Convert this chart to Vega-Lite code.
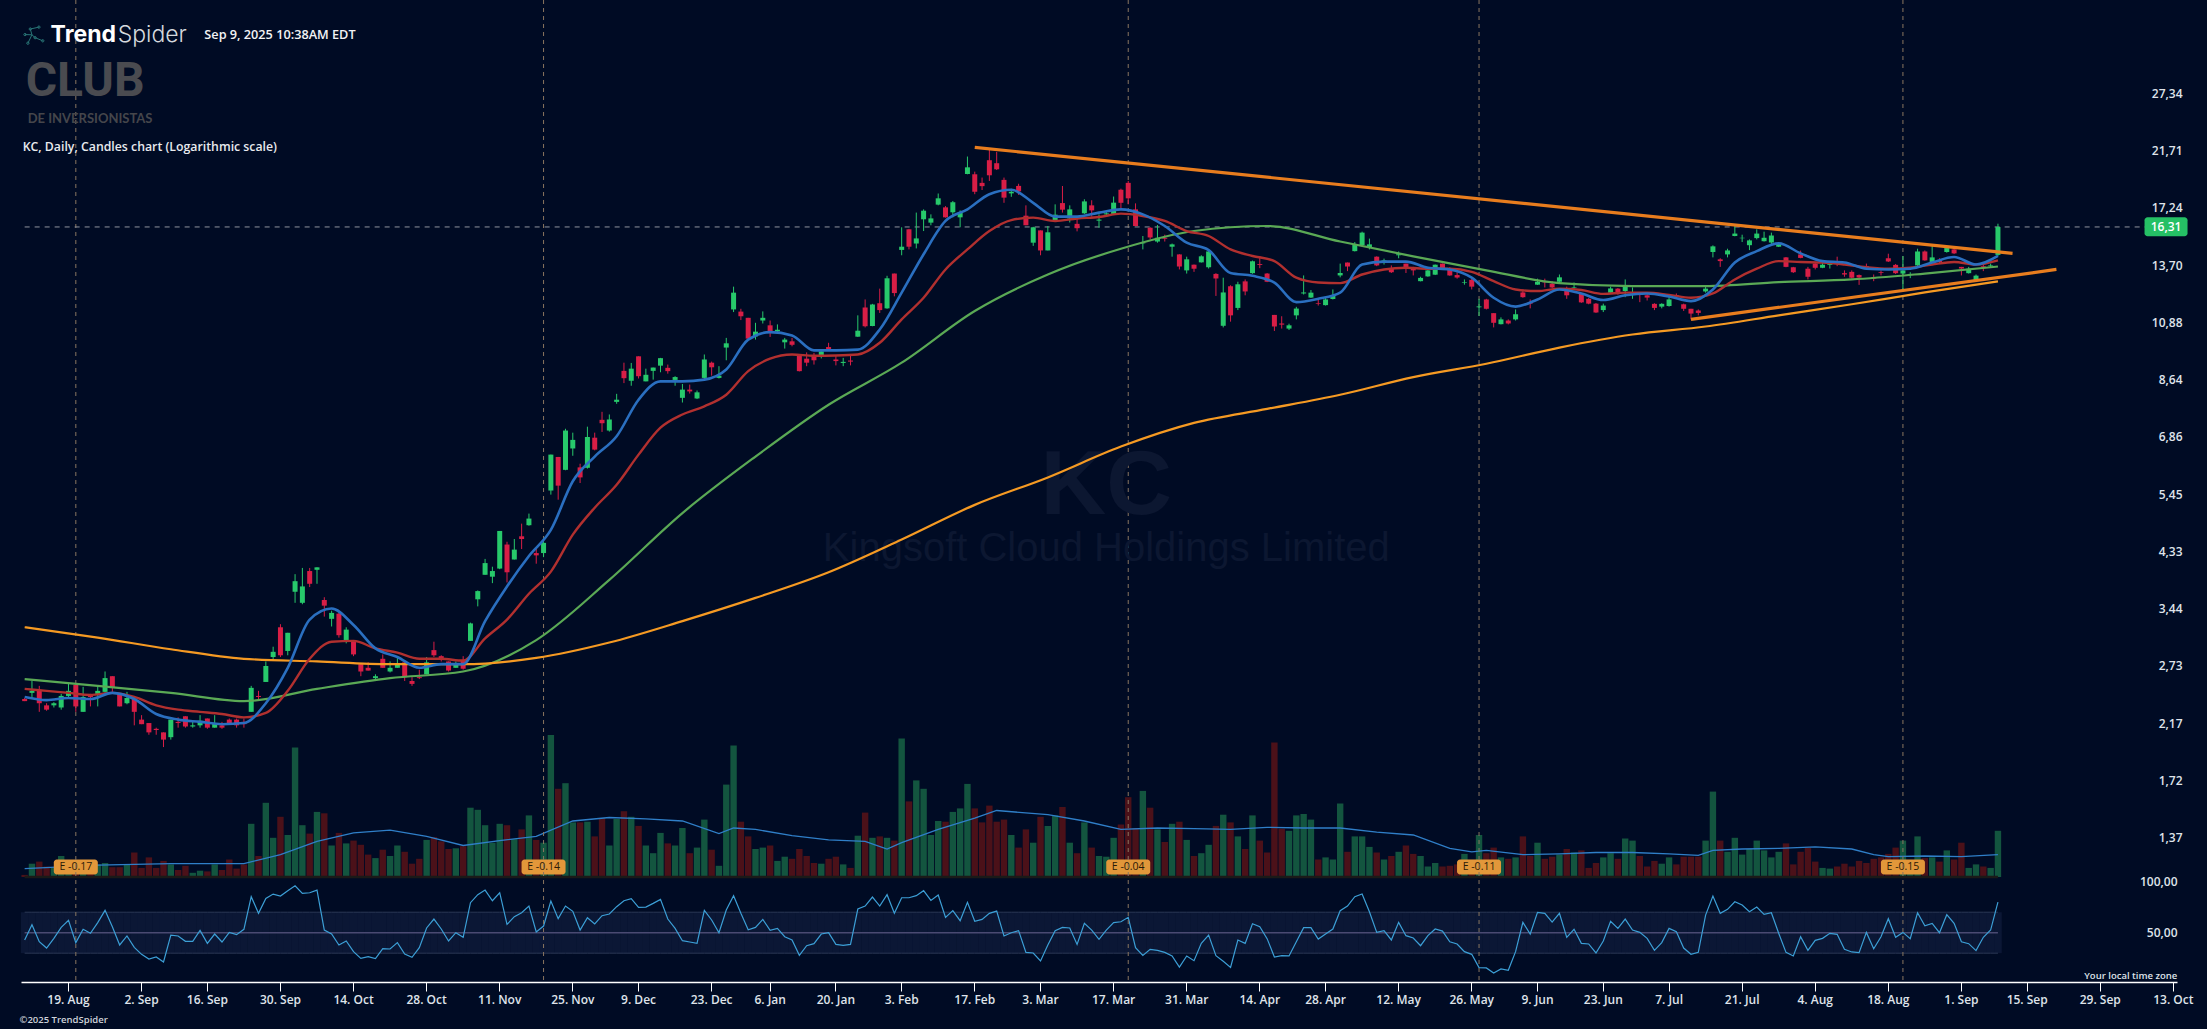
{"$schema":"https://vega.github.io/schema/vega-lite/v6.json","width":2156,"height":982,"autosize":{"type":"none"},"padding":{"left":21,"top":0,"right":30,"bottom":47},"background":"#000b24","config":{"view":{"stroke":null},"font":"Open Sans"},
"datasets":{"bars":[
{"d":"2024-08-09","o":2.39,"h":2.40,"l":2.37,"c":2.37,"v":0.3,"r":42.9},
{"d":"2024-08-12","o":2.45,"h":2.57,"l":2.40,"c":2.47,"v":1.9,"r":57.8},
{"d":"2024-08-13","o":2.48,"h":2.52,"l":2.27,"c":2.35,"v":2.2,"r":41.2},
{"d":"2024-08-14","o":2.33,"h":2.35,"l":2.28,"c":2.29,"v":1.5,"r":35.0},
{"d":"2024-08-15","o":2.33,"h":2.36,"l":2.31,"c":2.35,"v":1.3,"r":44.5},
{"d":"2024-08-16","o":2.31,"h":2.44,"l":2.29,"c":2.42,"v":3.0,"r":55.2},
{"d":"2024-08-19","o":2.42,"h":2.54,"l":2.41,"c":2.47,"v":2.0,"r":62.0},
{"d":"2024-08-20","o":2.53,"h":2.55,"l":2.27,"c":2.32,"v":1.5,"r":40.3},
{"d":"2024-08-21","o":2.27,"h":2.51,"l":2.27,"c":2.41,"v":1.7,"r":53.3},
{"d":"2024-08-22","o":2.43,"h":2.44,"l":2.32,"c":2.41,"v":1.3,"r":49.4},
{"d":"2024-08-23","o":2.44,"h":2.51,"l":2.32,"c":2.47,"v":1.8,"r":59.8},
{"d":"2024-08-26","o":2.46,"h":2.67,"l":2.45,"c":2.60,"v":2.0,"r":71.8},
{"d":"2024-08-27","o":2.62,"h":2.62,"l":2.46,"c":2.50,"v":1.4,"r":55.9},
{"d":"2024-08-28","o":2.44,"h":2.45,"l":2.32,"c":2.32,"v":1.4,"r":38.0},
{"d":"2024-08-29","o":2.35,"h":2.46,"l":2.34,"c":2.40,"v":1.8,"r":46.8},
{"d":"2024-08-30","o":2.39,"h":2.41,"l":2.15,"c":2.27,"v":3.5,"r":35.7},
{"d":"2024-09-03","o":2.20,"h":2.24,"l":2.16,"c":2.16,"v":1.3,"r":28.9},
{"d":"2024-09-04","o":2.17,"h":2.17,"l":2.07,"c":2.09,"v":2.8,"r":24.3},
{"d":"2024-09-05","o":2.12,"h":2.13,"l":2.07,"c":2.11,"v":1.3,"r":26.3},
{"d":"2024-09-06","o":2.09,"h":2.09,"l":1.97,"c":2.03,"v":2.3,"r":21.4},
{"d":"2024-09-09","o":2.05,"h":2.20,"l":2.03,"c":2.20,"v":1.8,"r":47.7},
{"d":"2024-09-10","o":2.18,"h":2.22,"l":2.13,"c":2.17,"v":1.0,"r":46.8},
{"d":"2024-09-11","o":2.23,"h":2.23,"l":2.13,"c":2.14,"v":1.6,"r":41.6},
{"d":"2024-09-12","o":2.14,"h":2.19,"l":2.13,"c":2.15,"v":0.6,"r":41.6},
{"d":"2024-09-13","o":2.15,"h":2.24,"l":2.13,"c":2.19,"v":0.9,"r":52.3},
{"d":"2024-09-16","o":2.21,"h":2.21,"l":2.12,"c":2.13,"v":0.8,"r":39.6},
{"d":"2024-09-17","o":2.13,"h":2.24,"l":2.13,"c":2.17,"v":1.8,"r":48.7},
{"d":"2024-09-18","o":2.15,"h":2.18,"l":2.12,"c":2.13,"v":1.0,"r":40.9},
{"d":"2024-09-19","o":2.20,"h":2.21,"l":2.16,"c":2.16,"v":2.5,"r":50.3},
{"d":"2024-09-20","o":2.20,"h":2.21,"l":2.13,"c":2.15,"v":1.2,"r":48.1},
{"d":"2024-09-23","o":2.18,"h":2.21,"l":2.13,"c":2.16,"v":1.8,"r":53.3},
{"d":"2024-09-24","o":2.27,"h":2.52,"l":2.27,"c":2.50,"v":7.6,"r":85.1},
{"d":"2024-09-25","o":2.42,"h":2.47,"l":2.38,"c":2.41,"v":3.0,"r":68.9},
{"d":"2024-09-26","o":2.56,"h":2.78,"l":2.56,"c":2.73,"v":10.6,"r":83.5},
{"d":"2024-09-27","o":2.83,"h":2.95,"l":2.80,"c":2.89,"v":5.6,"r":87.7},
{"d":"2024-09-30","o":3.19,"h":3.23,"l":2.83,"c":2.85,"v":8.6,"r":85.8},
{"d":"2024-10-01","o":2.90,"h":3.12,"l":2.85,"c":3.12,"v":6.0,"r":91.0},
{"d":"2024-10-02","o":3.68,"h":3.95,"l":3.52,"c":3.84,"v":18.5,"r":95.8},
{"d":"2024-10-03","o":3.52,"h":4.05,"l":3.50,"c":3.76,"v":7.4,"r":88.4},
{"d":"2024-10-04","o":4.00,"h":4.05,"l":3.75,"c":3.80,"v":6.2,"r":89.0},
{"d":"2024-10-07","o":4.02,"h":4.06,"l":3.80,"c":4.06,"v":9.3,"r":91.6},
{"d":"2024-10-08","o":3.56,"h":3.60,"l":3.33,"c":3.48,"v":9.1,"r":52.6},
{"d":"2024-10-09","o":3.30,"h":3.41,"l":3.20,"c":3.38,"v":4.5,"r":48.7},
{"d":"2024-10-10","o":3.37,"h":3.38,"l":3.06,"c":3.09,"v":6.3,"r":38.0},
{"d":"2024-10-11","o":3.03,"h":3.19,"l":2.99,"c":3.16,"v":4.8,"r":41.9},
{"d":"2024-10-14","o":3.01,"h":3.03,"l":2.84,"c":2.86,"v":5.2,"r":31.5},
{"d":"2024-10-15","o":2.75,"h":2.76,"l":2.62,"c":2.67,"v":4.6,"r":25.0},
{"d":"2024-10-16","o":2.71,"h":2.77,"l":2.68,"c":2.68,"v":3.2,"r":26.6},
{"d":"2024-10-17","o":2.60,"h":2.64,"l":2.59,"c":2.62,"v":2.7,"r":24.7},
{"d":"2024-10-18","o":2.81,"h":2.86,"l":2.71,"c":2.71,"v":3.9,"r":34.4},
{"d":"2024-10-21","o":2.67,"h":2.78,"l":2.66,"c":2.71,"v":3.0,"r":34.1},
{"d":"2024-10-22","o":2.71,"h":2.83,"l":2.71,"c":2.76,"v":4.5,"r":40.3},
{"d":"2024-10-23","o":2.77,"h":2.78,"l":2.57,"c":2.61,"v":3.6,"r":29.2},
{"d":"2024-10-24","o":2.57,"h":2.61,"l":2.52,"c":2.54,"v":1.9,"r":26.0},
{"d":"2024-10-25","o":2.61,"h":2.69,"l":2.59,"c":2.60,"v":2.6,"r":35.4},
{"d":"2024-10-28","o":2.64,"h":2.83,"l":2.64,"c":2.77,"v":5.3,"r":54.6},
{"d":"2024-10-29","o":2.91,"h":3.01,"l":2.83,"c":2.85,"v":5.7,"r":63.3},
{"d":"2024-10-30","o":2.84,"h":2.85,"l":2.78,"c":2.80,"v":5.1,"r":53.6},
{"d":"2024-10-31","o":2.78,"h":2.78,"l":2.67,"c":2.68,"v":4.0,"r":41.9},
{"d":"2024-11-01","o":2.71,"h":2.78,"l":2.71,"c":2.75,"v":4.1,"r":50.0},
{"d":"2024-11-04","o":2.79,"h":2.84,"l":2.69,"c":2.70,"v":4.4,"r":45.5},
{"d":"2024-11-05","o":3.02,"h":3.25,"l":3.02,"c":3.24,"v":9.9,"r":79.3},
{"d":"2024-11-06","o":3.57,"h":3.70,"l":3.47,"c":3.69,"v":9.6,"r":87.1},
{"d":"2024-11-07","o":3.94,"h":4.20,"l":3.94,"c":4.13,"v":7.4,"r":91.6},
{"d":"2024-11-08","o":3.91,"h":4.07,"l":3.81,"c":4.00,"v":4.9,"r":81.2},
{"d":"2024-11-11","o":4.04,"h":4.70,"l":4.03,"c":4.70,"v":7.6,"r":89.0},
{"d":"2024-11-12","o":4.45,"h":4.50,"l":3.82,"c":3.98,"v":7.4,"r":58.1},
{"d":"2024-11-13","o":4.19,"h":4.55,"l":4.19,"c":4.36,"v":5.4,"r":65.6},
{"d":"2024-11-14","o":4.60,"h":4.84,"l":4.37,"c":4.55,"v":6.8,"r":69.5},
{"d":"2024-11-15","o":4.81,"h":5.04,"l":4.80,"c":4.94,"v":8.8,"r":76.0},
{"d":"2024-11-18","o":4.30,"h":4.39,"l":4.12,"c":4.26,"v":5.3,"r":50.7},
{"d":"2024-11-19","o":4.30,"h":4.57,"l":4.23,"c":4.48,"v":4.9,"r":56.5},
{"d":"2024-11-20","o":5.53,"h":6.39,"l":5.44,"c":6.39,"v":20.3,"r":80.9},
{"d":"2024-11-21","o":6.33,"h":6.33,"l":5.33,"c":5.64,"v":12.6,"r":63.7},
{"d":"2024-11-22","o":6.01,"h":7.09,"l":6.00,"c":7.04,"v":13.4,"r":76.0},
{"d":"2024-11-25","o":6.55,"h":6.98,"l":6.36,"c":6.78,"v":7.8,"r":70.8},
{"d":"2024-11-26","o":6.07,"h":6.16,"l":5.70,"c":5.83,"v":7.8,"r":52.6},
{"d":"2024-11-27","o":6.06,"h":7.15,"l":6.04,"c":6.86,"v":7.9,"r":64.6},
{"d":"2024-11-29","o":6.84,"h":6.98,"l":6.50,"c":6.52,"v":5.8,"r":58.5},
{"d":"2024-12-02","o":7.35,"h":7.59,"l":7.00,"c":7.25,"v":8.4,"r":66.6},
{"d":"2024-12-03","o":7.04,"h":7.51,"l":7.01,"c":7.36,"v":4.5,"r":68.2},
{"d":"2024-12-04","o":7.90,"h":8.16,"l":7.84,"c":7.97,"v":8.3,"r":75.4},
{"d":"2024-12-05","o":8.95,"h":9.25,"l":8.52,"c":8.69,"v":9.4,"r":81.2},
{"d":"2024-12-06","o":8.60,"h":9.24,"l":8.43,"c":9.03,"v":8.6,"r":83.2},
{"d":"2024-12-09","o":9.49,"h":9.49,"l":8.68,"c":8.76,"v":7.3,"r":74.7},
{"d":"2024-12-10","o":8.58,"h":9.03,"l":8.58,"c":8.81,"v":4.5,"r":75.0},
{"d":"2024-12-11","o":8.95,"h":9.07,"l":8.64,"c":9.07,"v":3.4,"r":78.6},
{"d":"2024-12-12","o":9.14,"h":9.43,"l":8.90,"c":9.42,"v":6.3,"r":82.5},
{"d":"2024-12-13","o":9.06,"h":9.18,"l":8.85,"c":8.94,"v":4.8,"r":63.3},
{"d":"2024-12-16","o":8.63,"h":8.76,"l":8.43,"c":8.73,"v":4.5,"r":54.2},
{"d":"2024-12-17","o":8.03,"h":8.49,"l":7.88,"c":8.30,"v":7.0,"r":42.2},
{"d":"2024-12-18","o":8.30,"h":8.47,"l":8.17,"c":8.24,"v":3.4,"r":40.9},
{"d":"2024-12-19","o":8.01,"h":8.27,"l":7.99,"c":8.21,"v":4.2,"r":39.6},
{"d":"2024-12-20","o":8.70,"h":9.56,"l":8.66,"c":9.37,"v":8.2,"r":71.8},
{"d":"2024-12-23","o":9.25,"h":9.29,"l":8.78,"c":9.08,"v":3.9,"r":62.4},
{"d":"2024-12-24","o":8.70,"h":9.12,"l":8.68,"c":8.78,"v":1.6,"r":50.0},
{"d":"2024-12-26","o":9.83,"h":10.22,"l":9.34,"c":10.00,"v":13.2,"r":72.1},
{"d":"2024-12-27","o":11.46,"h":12.56,"l":11.34,"c":12.26,"v":18.8,"r":86.1},
{"d":"2024-12-30","o":11.36,"h":11.49,"l":10.98,"c":11.15,"v":7.9,"r":68.9},
{"d":"2024-12-31","o":11.08,"h":11.08,"l":10.18,"c":10.19,"v":5.8,"r":52.9},
{"d":"2025-01-02","o":10.28,"h":10.86,"l":10.15,"c":10.48,"v":4.0,"r":55.2},
{"d":"2025-01-03","o":10.96,"h":11.37,"l":10.83,"c":11.08,"v":4.2,"r":63.0},
{"d":"2025-01-06","o":10.75,"h":10.96,"l":10.26,"c":10.47,"v":4.5,"r":52.3},
{"d":"2025-01-07","o":10.49,"h":10.79,"l":10.46,"c":10.56,"v":2.3,"r":54.2},
{"d":"2025-01-08","o":10.04,"h":10.22,"l":9.79,"c":10.15,"v":2.9,"r":46.1},
{"d":"2025-01-10","o":10.08,"h":10.22,"l":9.88,"c":9.94,"v":2.6,"r":42.9},
{"d":"2025-01-13","o":9.51,"h":9.52,"l":8.93,"c":8.94,"v":4.0,"r":27.9},
{"d":"2025-01-14","o":9.40,"h":9.64,"l":9.12,"c":9.25,"v":3.0,"r":37.3},
{"d":"2025-01-15","o":9.53,"h":9.62,"l":9.18,"c":9.34,"v":2.0,"r":39.3},
{"d":"2025-01-16","o":9.51,"h":9.75,"l":9.41,"c":9.68,"v":1.9,"r":48.7},
{"d":"2025-01-17","o":9.85,"h":10.02,"l":9.72,"c":9.72,"v":2.6,"r":50.0},
{"d":"2025-01-21","o":9.37,"h":9.53,"l":9.15,"c":9.31,"v":2.9,"r":38.6},
{"d":"2025-01-22","o":9.24,"h":9.43,"l":9.12,"c":9.28,"v":1.8,"r":37.7},
{"d":"2025-01-23","o":9.33,"h":9.53,"l":9.15,"c":9.29,"v":1.3,"r":38.6},
{"d":"2025-01-24","o":10.27,"h":11.19,"l":10.26,"c":10.52,"v":5.9,"r":73.1},
{"d":"2025-01-27","o":11.55,"h":11.93,"l":10.66,"c":10.71,"v":9.2,"r":76.0},
{"d":"2025-01-28","o":10.72,"h":11.72,"l":10.71,"c":11.69,"v":5.6,"r":84.8},
{"d":"2025-01-29","o":11.75,"h":12.46,"l":11.30,"c":11.43,"v":5.8,"r":76.0},
{"d":"2025-01-30","o":11.51,"h":13.12,"l":11.49,"c":12.99,"v":5.6,"r":87.1},
{"d":"2025-01-31","o":13.24,"h":13.24,"l":12.08,"c":12.24,"v":5.2,"r":68.9},
{"d":"2025-02-03","o":14.56,"h":15.95,"l":14.25,"c":14.75,"v":19.8,"r":84.1},
{"d":"2025-02-04","o":15.82,"h":15.85,"l":14.59,"c":14.75,"v":10.8,"r":84.1},
{"d":"2025-02-05","o":14.94,"h":16.92,"l":14.65,"c":15.25,"v":13.8,"r":86.1},
{"d":"2025-02-06","o":16.47,"h":17.14,"l":15.71,"c":17.05,"v":12.6,"r":91.0},
{"d":"2025-02-07","o":16.25,"h":16.80,"l":16.08,"c":16.53,"v":6.0,"r":81.5},
{"d":"2025-02-10","o":17.47,"h":18.27,"l":17.42,"c":17.92,"v":8.0,"r":86.7},
{"d":"2025-02-11","o":17.28,"h":17.37,"l":16.58,"c":16.60,"v":7.9,"r":65.0},
{"d":"2025-02-12","o":16.94,"h":17.73,"l":16.60,"c":17.64,"v":9.3,"r":71.5},
{"d":"2025-02-13","o":16.60,"h":17.07,"l":15.95,"c":16.92,"v":9.8,"r":61.7},
{"d":"2025-02-14","o":19.76,"h":21.20,"l":19.74,"c":20.30,"v":13.3,"r":79.6},
{"d":"2025-02-18","o":19.74,"h":19.95,"l":18.22,"c":18.40,"v":9.8,"r":61.1},
{"d":"2025-02-19","o":19.07,"h":19.48,"l":18.53,"c":18.82,"v":7.8,"r":63.0},
{"d":"2025-02-20","o":20.89,"h":21.77,"l":19.22,"c":19.66,"v":10.2,"r":68.9},
{"d":"2025-02-21","o":20.64,"h":21.60,"l":20.08,"c":20.14,"v":7.9,"r":71.1},
{"d":"2025-02-24","o":19.30,"h":19.48,"l":17.60,"c":17.97,"v":8.2,"r":46.8},
{"d":"2025-02-25","o":18.28,"h":18.62,"l":18.03,"c":18.40,"v":6.0,"r":50.0},
{"d":"2025-02-26","o":18.84,"h":19.00,"l":18.17,"c":18.43,"v":4.2,"r":52.0},
{"d":"2025-02-27","o":16.71,"h":17.42,"l":16.08,"c":16.08,"v":6.8,"r":30.8},
{"d":"2025-02-28","o":14.99,"h":15.98,"l":14.80,"c":15.95,"v":4.9,"r":30.2},
{"d":"2025-03-03","o":15.75,"h":15.75,"l":14.25,"c":14.53,"v":8.6,"r":22.4},
{"d":"2025-03-04","o":14.53,"h":16.03,"l":14.53,"c":15.63,"v":7.3,"r":38.0},
{"d":"2025-03-05","o":16.42,"h":17.49,"l":16.40,"c":16.78,"v":8.8,"r":52.0},
{"d":"2025-03-06","o":17.58,"h":18.83,"l":16.92,"c":17.12,"v":10.0,"r":55.2},
{"d":"2025-03-07","o":16.52,"h":17.42,"l":16.26,"c":17.14,"v":4.9,"r":54.6},
{"d":"2025-03-10","o":16.17,"h":16.65,"l":15.69,"c":15.89,"v":3.4,"r":38.6},
{"d":"2025-03-11","o":16.87,"h":17.85,"l":16.83,"c":17.70,"v":7.8,"r":59.1},
{"d":"2025-03-12","o":17.42,"h":17.78,"l":16.65,"c":17.07,"v":4.2,"r":52.6},
{"d":"2025-03-13","o":16.38,"h":16.80,"l":15.92,"c":16.45,"v":3.0,"r":43.5},
{"d":"2025-03-14","o":16.80,"h":17.03,"l":16.65,"c":16.87,"v":2.9,"r":52.6},
{"d":"2025-03-17","o":16.83,"h":18.05,"l":16.76,"c":17.61,"v":5.6,"r":59.8},
{"d":"2025-03-18","o":18.55,"h":18.63,"l":17.21,"c":17.60,"v":7.5,"r":60.7},
{"d":"2025-03-19","o":19.07,"h":19.22,"l":17.49,"c":17.92,"v":11.4,"r":65.0},
{"d":"2025-03-20","o":17.14,"h":17.56,"l":16.01,"c":16.03,"v":7.0,"r":35.4},
{"d":"2025-03-21","o":14.95,"h":15.40,"l":14.59,"c":14.99,"v":12.3,"r":27.9},
{"d":"2025-03-24","o":15.92,"h":15.95,"l":15.19,"c":15.31,"v":9.9,"r":33.8},
{"d":"2025-03-25","o":15.06,"h":16.10,"l":14.99,"c":15.29,"v":6.8,"r":32.8},
{"d":"2025-03-26","o":15.29,"h":15.48,"l":15.06,"c":15.23,"v":5.0,"r":30.8},
{"d":"2025-03-27","o":14.75,"h":14.94,"l":14.17,"c":14.89,"v":7.6,"r":27.3},
{"d":"2025-03-28","o":14.30,"h":14.31,"l":13.46,"c":13.62,"v":7.9,"r":16.5},
{"d":"2025-03-31","o":13.41,"h":14.17,"l":13.24,"c":14.02,"v":5.3,"r":27.3},
{"d":"2025-04-01","o":13.72,"h":13.73,"l":13.33,"c":13.50,"v":3.0,"r":22.7},
{"d":"2025-04-02","o":13.85,"h":14.25,"l":13.84,"c":14.19,"v":3.4,"r":39.6},
{"d":"2025-04-03","o":13.58,"h":14.55,"l":13.51,"c":14.47,"v":4.6,"r":47.7},
{"d":"2025-04-04","o":13.22,"h":13.26,"l":12.10,"c":12.98,"v":7.3,"r":27.6},
{"d":"2025-04-07","o":10.73,"h":13.02,"l":10.66,"c":12.27,"v":8.9,"r":22.1},
{"d":"2025-04-08","o":12.58,"h":12.63,"l":10.91,"c":11.19,"v":7.8,"r":16.2},
{"d":"2025-04-09","o":11.53,"h":12.81,"l":11.43,"c":12.68,"v":5.8,"r":42.9},
{"d":"2025-04-10","o":12.83,"h":12.93,"l":12.13,"c":12.32,"v":4.0,"r":39.6},
{"d":"2025-04-11","o":13.26,"h":13.95,"l":13.23,"c":13.91,"v":8.8,"r":58.8},
{"d":"2025-04-14","o":13.76,"h":14.21,"l":13.53,"c":13.71,"v":5.2,"r":55.9},
{"d":"2025-04-15","o":13.24,"h":13.27,"l":12.79,"c":12.81,"v":3.5,"r":44.2},
{"d":"2025-04-16","o":11.21,"h":11.21,"l":10.51,"c":10.70,"v":19.2,"r":26.3},
{"d":"2025-04-17","o":10.83,"h":11.15,"l":10.61,"c":10.78,"v":6.9,"r":27.6},
{"d":"2025-04-21","o":10.61,"h":10.82,"l":10.55,"c":10.75,"v":6.6,"r":27.3},
{"d":"2025-04-22","o":11.19,"h":11.58,"l":11.01,"c":11.50,"v":8.8,"r":41.2},
{"d":"2025-04-23","o":12.22,"h":13.14,"l":12.17,"c":12.27,"v":9.0,"r":54.9},
{"d":"2025-04-24","o":12.02,"h":12.39,"l":12.00,"c":12.26,"v":8.2,"r":54.9},
{"d":"2025-04-25","o":11.75,"h":11.96,"l":11.64,"c":11.72,"v":2.5,"r":43.8},
{"d":"2025-04-28","o":11.66,"h":12.04,"l":11.64,"c":11.93,"v":2.8,"r":48.7},
{"d":"2025-04-29","o":11.95,"h":12.42,"l":11.93,"c":12.13,"v":2.5,"r":53.6},
{"d":"2025-04-30","o":13.14,"h":13.78,"l":13.04,"c":13.27,"v":10.5,"r":71.5},
{"d":"2025-05-01","o":13.84,"h":13.84,"l":13.37,"c":13.62,"v":3.6,"r":76.0},
{"d":"2025-05-02","o":14.49,"h":15.03,"l":14.47,"c":14.89,"v":5.8,"r":85.1},
{"d":"2025-05-05","o":14.85,"h":15.67,"l":14.83,"c":15.61,"v":5.8,"r":87.7},
{"d":"2025-05-06","o":14.69,"h":15.24,"l":14.59,"c":14.89,"v":4.3,"r":70.5},
{"d":"2025-05-07","o":14.17,"h":14.19,"l":13.64,"c":13.68,"v":3.5,"r":50.3},
{"d":"2025-05-08","o":13.88,"h":14.06,"l":13.73,"c":13.96,"v":2.5,"r":52.0},
{"d":"2025-05-09","o":13.50,"h":13.68,"l":13.27,"c":13.31,"v":3.0,"r":42.9},
{"d":"2025-05-12","o":14.25,"h":14.47,"l":14.08,"c":14.31,"v":3.6,"r":60.1},
{"d":"2025-05-13","o":13.78,"h":13.78,"l":13.27,"c":13.54,"v":4.5,"r":47.1},
{"d":"2025-05-14","o":13.54,"h":13.60,"l":13.14,"c":13.41,"v":3.3,"r":44.8},
{"d":"2025-05-15","o":12.84,"h":13.07,"l":12.83,"c":13.01,"v":3.0,"r":37.3},
{"d":"2025-05-16","o":13.09,"h":13.60,"l":13.07,"c":13.41,"v":1.5,"r":47.1},
{"d":"2025-05-19","o":13.18,"h":13.73,"l":13.16,"c":13.72,"v":2.0,"r":53.6},
{"d":"2025-05-20","o":13.78,"h":13.78,"l":13.46,"c":13.50,"v":1.5,"r":51.6},
{"d":"2025-05-21","o":13.46,"h":13.58,"l":13.12,"c":13.14,"v":1.6,"r":41.2},
{"d":"2025-05-22","o":13.16,"h":13.31,"l":12.97,"c":13.03,"v":1.8,"r":39.0},
{"d":"2025-05-23","o":12.76,"h":12.93,"l":12.66,"c":12.79,"v":3.3,"r":31.5},
{"d":"2025-05-27","o":12.91,"h":12.97,"l":12.42,"c":12.56,"v":1.5,"r":28.9},
{"d":"2025-05-28","o":11.56,"h":11.96,"l":11.16,"c":11.60,"v":6.0,"r":15.9},
{"d":"2025-05-29","o":11.93,"h":11.96,"l":11.46,"c":11.49,"v":3.4,"r":15.6},
{"d":"2025-05-30","o":11.29,"h":11.29,"l":10.66,"c":10.86,"v":4.2,"r":10.7},
{"d":"2025-06-02","o":10.80,"h":11.10,"l":10.79,"c":11.01,"v":2.8,"r":14.6},
{"d":"2025-06-03","o":10.96,"h":11.01,"l":10.79,"c":10.83,"v":2.6,"r":13.3},
{"d":"2025-06-04","o":11.01,"h":11.46,"l":10.96,"c":11.24,"v":2.8,"r":31.5},
{"d":"2025-06-05","o":12.27,"h":12.42,"l":12.01,"c":12.04,"v":5.8,"r":60.1},
{"d":"2025-06-06","o":11.80,"h":11.93,"l":11.51,"c":11.73,"v":3.0,"r":48.7},
{"d":"2025-06-09","o":12.66,"h":12.97,"l":12.65,"c":12.81,"v":4.9,"r":69.8},
{"d":"2025-06-10","o":12.81,"h":12.97,"l":12.52,"c":12.78,"v":2.6,"r":68.9},
{"d":"2025-06-11","o":12.71,"h":12.84,"l":12.49,"c":12.52,"v":2.9,"r":60.4},
{"d":"2025-06-12","o":12.81,"h":13.19,"l":12.79,"c":13.04,"v":3.2,"r":68.9},
{"d":"2025-06-13","o":12.42,"h":12.56,"l":11.96,"c":12.13,"v":4.0,"r":45.5},
{"d":"2025-06-16","o":12.49,"h":12.77,"l":12.46,"c":12.52,"v":3.5,"r":53.3},
{"d":"2025-06-17","o":12.20,"h":12.22,"l":11.77,"c":11.79,"v":3.8,"r":39.6},
{"d":"2025-06-18","o":11.96,"h":12.00,"l":11.70,"c":11.73,"v":1.3,"r":39.0},
{"d":"2025-06-20","o":11.73,"h":11.76,"l":11.30,"c":11.32,"v":2.0,"r":30.2},
{"d":"2025-06-23","o":11.43,"h":11.73,"l":11.34,"c":11.64,"v":2.8,"r":41.9},
{"d":"2025-06-24","o":12.26,"h":12.56,"l":12.24,"c":12.47,"v":3.4,"r":61.1},
{"d":"2025-06-25","o":12.46,"h":12.49,"l":12.16,"c":12.19,"v":2.6,"r":54.2},
{"d":"2025-06-26","o":12.34,"h":12.93,"l":12.04,"c":12.64,"v":5.5,"r":63.3},
{"d":"2025-06-27","o":12.22,"h":12.52,"l":11.96,"c":12.26,"v":5.2,"r":52.6},
{"d":"2025-06-30","o":12.24,"h":12.26,"l":11.80,"c":12.20,"v":3.0,"r":50.3},
{"d":"2025-07-01","o":12.13,"h":12.20,"l":11.88,"c":12.02,"v":1.5,"r":44.5},
{"d":"2025-07-02","o":11.72,"h":11.75,"l":11.43,"c":11.53,"v":2.3,"r":32.8},
{"d":"2025-07-03","o":11.59,"h":11.75,"l":11.51,"c":11.72,"v":1.9,"r":40.3},
{"d":"2025-07-07","o":11.62,"h":12.17,"l":11.59,"c":11.93,"v":2.8,"r":54.2},
{"d":"2025-07-08","o":12.13,"h":12.22,"l":11.96,"c":12.07,"v":1.8,"r":51.0},
{"d":"2025-07-09","o":11.70,"h":11.73,"l":11.39,"c":11.49,"v":2.9,"r":35.0},
{"d":"2025-07-10","o":11.49,"h":11.49,"l":11.01,"c":11.27,"v":2.9,"r":28.9},
{"d":"2025-07-11","o":11.41,"h":11.46,"l":11.19,"c":11.30,"v":2.9,"r":30.8},
{"d":"2025-07-14","o":12.32,"h":12.56,"l":12.26,"c":12.46,"v":5.2,"r":67.2},
{"d":"2025-07-15","o":14.44,"h":14.83,"l":14.13,"c":14.77,"v":12.2,"r":85.8},
{"d":"2025-07-16","o":14.02,"h":14.08,"l":13.60,"c":13.92,"v":5.2,"r":68.9},
{"d":"2025-07-17","o":14.30,"h":14.63,"l":14.13,"c":14.53,"v":3.6,"r":72.8},
{"d":"2025-07-18","o":15.40,"h":16.03,"l":15.38,"c":15.55,"v":5.6,"r":80.2},
{"d":"2025-07-21","o":15.26,"h":15.48,"l":15.03,"c":15.29,"v":3.2,"r":77.0},
{"d":"2025-07-22","o":14.84,"h":15.19,"l":14.55,"c":15.13,"v":4.0,"r":70.5},
{"d":"2025-07-23","o":15.27,"h":15.82,"l":15.19,"c":15.55,"v":5.2,"r":75.0},
{"d":"2025-07-24","o":15.08,"h":15.67,"l":15.06,"c":15.29,"v":3.8,"r":67.9},
{"d":"2025-07-25","o":15.00,"h":15.61,"l":14.79,"c":15.43,"v":2.8,"r":69.5},
{"d":"2025-07-28","o":14.75,"h":15.00,"l":14.73,"c":14.94,"v":3.6,"r":49.4},
{"d":"2025-07-29","o":14.13,"h":14.15,"l":13.58,"c":13.60,"v":4.8,"r":30.8},
{"d":"2025-07-30","o":13.58,"h":13.60,"l":13.27,"c":13.31,"v":1.8,"r":27.3},
{"d":"2025-07-31","o":14.30,"h":14.52,"l":14.08,"c":14.10,"v":3.6,"r":46.1},
{"d":"2025-08-01","o":13.50,"h":13.60,"l":12.93,"c":13.07,"v":4.2,"r":32.8},
{"d":"2025-08-04","o":13.78,"h":13.87,"l":13.46,"c":13.55,"v":2.2,"r":42.5},
{"d":"2025-08-05","o":13.55,"h":13.87,"l":13.53,"c":13.72,"v":1.3,"r":44.5},
{"d":"2025-08-06","o":13.71,"h":13.92,"l":13.51,"c":13.76,"v":1.2,"r":49.4},
{"d":"2025-08-07","o":13.92,"h":14.17,"l":13.64,"c":13.87,"v":1.5,"r":48.4},
{"d":"2025-08-08","o":13.26,"h":13.41,"l":13.07,"c":13.19,"v":1.9,"r":33.8},
{"d":"2025-08-11","o":13.33,"h":13.41,"l":12.98,"c":13.02,"v":1.5,"r":31.2},
{"d":"2025-08-12","o":13.16,"h":13.19,"l":12.65,"c":13.03,"v":2.3,"r":30.5},
{"d":"2025-08-13","o":13.64,"h":13.78,"l":13.46,"c":13.55,"v":2.0,"r":50.3},
{"d":"2025-08-14","o":13.04,"h":13.19,"l":12.84,"c":12.98,"v":2.6,"r":34.4},
{"d":"2025-08-15","o":13.31,"h":13.41,"l":13.14,"c":13.27,"v":2.8,"r":46.1},
{"d":"2025-08-18","o":14.08,"h":14.34,"l":13.87,"c":13.90,"v":3.3,"r":63.7},
{"d":"2025-08-19","o":13.71,"h":13.76,"l":13.22,"c":13.26,"v":4.2,"r":45.5},
{"d":"2025-08-20","o":13.24,"h":14.21,"l":12.42,"c":13.41,"v":5.2,"r":50.3},
{"d":"2025-08-21","o":13.16,"h":13.31,"l":13.00,"c":13.22,"v":2.0,"r":44.2},
{"d":"2025-08-22","o":13.68,"h":14.63,"l":13.64,"c":14.47,"v":5.8,"r":69.5},
{"d":"2025-08-25","o":14.47,"h":14.53,"l":13.94,"c":13.96,"v":2.7,"r":56.8},
{"d":"2025-08-26","o":13.87,"h":14.79,"l":13.84,"c":14.13,"v":2.8,"r":59.1},
{"d":"2025-08-27","o":13.94,"h":14.08,"l":13.78,"c":13.87,"v":2.2,"r":50.0},
{"d":"2025-08-28","o":14.44,"h":14.79,"l":14.40,"c":14.67,"v":3.8,"r":67.6},
{"d":"2025-08-29","o":14.59,"h":14.67,"l":14.32,"c":14.36,"v":2.5,"r":59.1},
{"d":"2025-09-02","o":13.60,"h":13.60,"l":13.14,"c":13.51,"v":4.9,"r":41.2},
{"d":"2025-09-03","o":13.26,"h":13.60,"l":13.24,"c":13.50,"v":1.3,"r":39.3},
{"d":"2025-09-04","o":12.91,"h":13.19,"l":12.89,"c":13.13,"v":1.8,"r":32.5},
{"d":"2025-09-05","o":13.64,"h":13.73,"l":13.37,"c":13.60,"v":1.5,"r":45.5},
{"d":"2025-09-08","o":13.64,"h":13.78,"l":13.54,"c":13.68,"v":1.3,"r":52.6},
{"d":"2025-09-09","o":14.27,"h":16.18,"l":14.21,"c":15.97,"v":6.6,"r":79.9}
],
"fast":[
{"d":"2024-08-09","b":2.41,"r":2.49},{"d":"2024-08-14","b":2.38,"r":2.47},{"d":"2024-08-19","b":2.40,"r":2.45},{"d":"2024-08-22","b":2.39,"r":2.43},{"d":"2024-08-27","b":2.45,"r":2.45},{"d":"2024-08-30","b":2.39,"r":2.41},{"d":"2024-09-05","b":2.25,"r":2.33},{"d":"2024-09-10","b":2.20,"r":2.29},{"d":"2024-09-13","b":2.18,"r":2.27},{"d":"2024-09-18","b":2.16,"r":2.25},{"d":"2024-09-23","b":2.17,"r":2.22},{"d":"2024-09-26","b":2.35,"r":2.26},{"d":"2024-10-01","b":2.71,"r":2.47},{"d":"2024-10-04","b":3.29,"r":2.81},{"d":"2024-10-09","b":3.44,"r":3.01},{"d":"2024-10-14","b":3.22,"r":3.02},{"d":"2024-10-17","b":2.93,"r":2.93},{"d":"2024-10-22","b":2.83,"r":2.88},{"d":"2024-10-25","b":2.71,"r":2.81},{"d":"2024-10-30","b":2.75,"r":2.81},{"d":"2024-11-04","b":2.75,"r":2.79},{"d":"2024-11-07","b":3.27,"r":3.05},{"d":"2024-11-12","b":3.76,"r":3.29},{"d":"2024-11-15","b":4.25,"r":3.65},{"d":"2024-11-20","b":4.72,"r":3.99},{"d":"2024-11-25","b":5.74,"r":4.63},{"d":"2024-11-29","b":6.34,"r":5.16},{"d":"2024-12-04","b":6.88,"r":5.66},{"d":"2024-12-09","b":7.97,"r":6.39},{"d":"2024-12-12","b":8.58,"r":7.12},{"d":"2024-12-17","b":8.58,"r":7.51},{"d":"2024-12-20","b":8.64,"r":7.76},{"d":"2024-12-26","b":9.00,"r":8.13},{"d":"2024-12-31","b":10.15,"r":8.94},{"d":"2025-01-06","b":10.46,"r":9.40},{"d":"2025-01-10","b":10.32,"r":9.56},{"d":"2025-01-15","b":9.72,"r":9.51},{"d":"2025-01-21","b":9.72,"r":9.52},{"d":"2025-01-24","b":9.75,"r":9.56},{"d":"2025-01-29","b":10.57,"r":10.02},{"d":"2025-02-03","b":12.26,"r":11.01},{"d":"2025-02-06","b":14.31,"r":12.01},{"d":"2025-02-11","b":16.36,"r":13.46},{"d":"2025-02-14","b":17.14,"r":14.59},{"d":"2025-02-20","b":18.22,"r":15.71},{"d":"2025-02-25","b":18.55,"r":16.42},{"d":"2025-02-28","b":17.60,"r":16.58},{"d":"2025-03-05","b":16.65,"r":16.36},{"d":"2025-03-10","b":16.65,"r":16.52},{"d":"2025-03-13","b":16.92,"r":16.62},{"d":"2025-03-18","b":17.14,"r":16.85},{"d":"2025-03-21","b":16.80,"r":16.69},{"d":"2025-03-26","b":16.03,"r":16.36},{"d":"2025-03-31","b":14.99,"r":15.71},{"d":"2025-04-03","b":14.55,"r":15.40},{"d":"2025-04-08","b":13.27,"r":14.59},{"d":"2025-04-11","b":13.12,"r":14.21},{"d":"2025-04-16","b":12.77,"r":13.92},{"d":"2025-04-22","b":11.80,"r":13.02},{"d":"2025-04-25","b":11.96,"r":12.77},{"d":"2025-04-30","b":12.26,"r":12.74},{"d":"2025-05-05","b":13.73,"r":13.19},{"d":"2025-05-08","b":13.89,"r":13.46},{"d":"2025-05-13","b":13.89,"r":13.55},{"d":"2025-05-16","b":13.55,"r":13.50},{"d":"2025-05-21","b":13.46,"r":13.50},{"d":"2025-05-27","b":13.02,"r":13.33},{"d":"2025-05-30","b":12.01,"r":12.84},{"d":"2025-06-04","b":11.59,"r":12.42},{"d":"2025-06-09","b":11.93,"r":12.34},{"d":"2025-06-12","b":12.42,"r":12.46},{"d":"2025-06-17","b":12.22,"r":12.39},{"d":"2025-06-23","b":11.90,"r":12.20},{"d":"2025-06-26","b":12.13,"r":12.26},{"d":"2025-07-01","b":12.22,"r":12.26},{"d":"2025-07-07","b":12.07,"r":12.15},{"d":"2025-07-10","b":11.85,"r":12.01},{"d":"2025-07-15","b":12.42,"r":12.22},{"d":"2025-07-18","b":13.84,"r":12.93},{"d":"2025-07-23","b":14.49,"r":13.50},{"d":"2025-07-28","b":14.95,"r":13.92},{"d":"2025-07-31","b":14.36,"r":13.87},{"d":"2025-08-05","b":13.92,"r":13.84},{"d":"2025-08-08","b":13.84,"r":13.73},{"d":"2025-08-13","b":13.50,"r":13.58},{"d":"2025-08-18","b":13.46,"r":13.50},{"d":"2025-08-21","b":13.50,"r":13.55},{"d":"2025-08-26","b":13.84,"r":13.73},{"d":"2025-08-29","b":14.15,"r":13.87},{"d":"2025-09-04","b":13.73,"r":13.73},{"d":"2025-09-09","b":14.21,"r":13.96}
],
"slow":[
{"d":"2024-08-09","g":2.59,"s":3.19},{"d":"2024-08-23","g":2.52,"s":3.06},{"d":"2024-09-09","g":2.45,"s":2.92},{"d":"2024-09-23","g":2.37,"s":2.81},{"d":"2024-10-07","g":2.49,"s":2.78},{"d":"2024-10-21","g":2.60,"s":2.75},{"d":"2024-11-04","g":2.67,"s":2.75},{"d":"2024-11-18","g":3.03,"s":2.82},{"d":"2024-12-03","g":3.86,"s":3.00},{"d":"2024-12-17","g":5.05,"s":3.27},{"d":"2025-01-02","g":6.34,"s":3.59},{"d":"2025-01-17","g":7.81,"s":3.98},{"d":"2025-02-03","g":9.25,"s":4.54},{"d":"2025-02-18","g":11.39,"s":5.22},{"d":"2025-03-04","g":13.19,"s":5.83},{"d":"2025-03-18","g":14.63,"s":6.60},{"d":"2025-04-01","g":15.71,"s":7.26},{"d":"2025-04-15","g":16.03,"s":7.68},{"d":"2025-04-30","g":15.06,"s":8.13},{"d":"2025-05-14","g":14.19,"s":8.73},{"d":"2025-05-29","g":13.41,"s":9.21},{"d":"2025-06-12","g":12.74,"s":9.83},{"d":"2025-06-27","g":12.59,"s":10.36},{"d":"2025-07-14","g":12.59,"s":10.70},{"d":"2025-07-28","g":12.79,"s":11.19},{"d":"2025-08-11","g":12.93,"s":11.70},{"d":"2025-08-25","g":13.24,"s":12.27},{"d":"2025-09-09","g":13.62,"s":12.83}
],
"volavg":[
{"d":"2024-08-09","m":1.2},{"d":"2024-08-23","m":1.7},{"d":"2024-09-09","m":1.9},{"d":"2024-09-23","m":1.9},{"d":"2024-09-30","m":3.2},{"d":"2024-10-07","m":5.1},{"d":"2024-10-14","m":6.3},{"d":"2024-10-21","m":6.7},{"d":"2024-10-28","m":5.8},{"d":"2024-11-04","m":4.5},{"d":"2024-11-11","m":5.2},{"d":"2024-11-18","m":5.8},{"d":"2024-11-25","m":8.0},{"d":"2024-12-03","m":8.5},{"d":"2024-12-10","m":8.3},{"d":"2024-12-17","m":8.0},{"d":"2024-12-24","m":6.2},{"d":"2024-12-27","m":7.0},{"d":"2025-01-02","m":6.8},{"d":"2025-01-10","m":5.9},{"d":"2025-01-17","m":5.3},{"d":"2025-01-27","m":5.1},{"d":"2025-01-30","m":4.0},{"d":"2025-02-03","m":4.9},{"d":"2025-02-10","m":6.8},{"d":"2025-02-18","m":8.4},{"d":"2025-02-21","m":9.5},{"d":"2025-03-04","m":8.9},{"d":"2025-03-11","m":8.0},{"d":"2025-03-18","m":6.8},{"d":"2025-03-25","m":7.0},{"d":"2025-04-01","m":6.9},{"d":"2025-04-08","m":6.8},{"d":"2025-04-15","m":7.1},{"d":"2025-04-23","m":7.0},{"d":"2025-04-30","m":7.0},{"d":"2025-05-07","m":6.4},{"d":"2025-05-14","m":6.0},{"d":"2025-05-21","m":4.1},{"d":"2025-05-27","m":3.6},{"d":"2025-05-29","m":3.8},{"d":"2025-06-05","m":3.2},{"d":"2025-06-12","m":3.3},{"d":"2025-06-20","m":3.5},{"d":"2025-06-27","m":3.5},{"d":"2025-07-07","m":3.3},{"d":"2025-07-11","m":3.1},{"d":"2025-07-15","m":3.8},{"d":"2025-07-21","m":4.0},{"d":"2025-07-28","m":4.1},{"d":"2025-08-04","m":4.3},{"d":"2025-08-11","m":4.0},{"d":"2025-08-14","m":3.2},{"d":"2025-08-18","m":2.9},{"d":"2025-08-25","m":3.0},{"d":"2025-09-02","m":2.9},{"d":"2025-09-09","m":3.2}
],
"future":[{"d":"2025-09-10"},{"d":"2025-09-11"},{"d":"2025-09-12"},{"d":"2025-09-15"},{"d":"2025-09-16"},{"d":"2025-09-17"},{"d":"2025-09-18"},{"d":"2025-09-19"},{"d":"2025-09-22"},{"d":"2025-09-23"},{"d":"2025-09-24"},{"d":"2025-09-25"},{"d":"2025-09-26"},{"d":"2025-09-29"},{"d":"2025-09-30"},{"d":"2025-10-01"},{"d":"2025-10-02"},{"d":"2025-10-03"},{"d":"2025-10-06"},{"d":"2025-10-07"},{"d":"2025-10-08"},{"d":"2025-10-09"},{"d":"2025-10-10"},{"d":"2025-10-13"}],
"trend":[{"d":"2025-02-18","p":22.0,"t":"a"},{"d":"2025-09-11","p":14.36,"t":"a"},{"d":"2025-07-10","p":11.01,"t":"b"},{"d":"2025-09-19","p":13.46,"t":"b"}],
"earnings":[{"d":"2024-08-20","e":"E -0.17"},{"d":"2024-11-19","e":"E -0.14"},{"d":"2025-03-19","e":"E -0.04"},{"d":"2025-05-28","e":"E -0.11"},{"d":"2025-08-20","e":"E -0.15"}]
},
"data":{"name":"bars"},
"encoding":{"x":{"field":"d","type":"ordinal","scale":{"type":"band","paddingInner":0,"paddingOuter":0},"axis":{"values":["2024-08-19","2024-09-03","2024-09-16","2024-09-30","2024-10-14","2024-10-28","2024-11-11","2024-11-25","2024-12-09","2024-12-23","2025-01-06","2025-01-21","2025-02-03","2025-02-18","2025-03-03","2025-03-17","2025-03-31","2025-04-14","2025-04-28","2025-05-12","2025-05-27","2025-06-09","2025-06-23","2025-07-07","2025-07-21","2025-08-04","2025-08-18","2025-09-02","2025-09-15","2025-09-29","2025-10-13"],"labelExpr":"{'2024-09-03':'2. Sep','2025-01-21':'20. Jan','2025-02-18':'17. Feb','2025-05-27':'26. May','2025-09-02':'1. Sep'}[datum.value] || utcFormat(toDate(datum.value),'%-d. %b')","labelAngle":0,"labelColor":"#dfe3ea","labelFontSize":12,"labelFontWeight":600,"labelPadding":3,"labelOverlap":false,"domainColor":"#ffffff","domainWidth":1.5,"tickColor":"#ffffff","tickSize":9,"tickWidth":1,"grid":false,"title":"©2025 TrendSpider","titleColor":"#cfd3da","titleFontSize":9.5,"titleFontWeight":600,"titleAnchor":"start","titleAlign":"left","titleX":-2,"titleY":37,"titleBaseline":"middle"}}},
"layer":[
{"data":{"name":"future"},"mark":{"type":"rule","opacity":0}},
{"encoding":{"y":{"type":"quantitative","scale":{"domain":[-15,125.2857],"nice":false,"zero":false},"axis":null}},"layer":[
{"mark":{"type":"bar","width":6.4},"encoding":{"y":{"field":"v"},"color":{"condition":{"test":"datum.c<datum.o","value":"#4b1119"},"value":"#13553f"}}},
{"mark":{"type":"line","stroke":"#1b1a18","strokeWidth":2.5},"encoding":{"y":{"datum":0}}},
{"data":{"name":"volavg"},"mark":{"type":"line","stroke":"#2f7fc8","strokeWidth":1.3},"encoding":{"y":{"field":"m"}}},
{"data":{"name":"earnings"},"mark":{"type":"bar","width":44,"cornerRadius":3,"color":"#e2973a"},"encoding":{"y":{"datum":2.5},"y2":{"datum":0.36}}},
{"data":{"name":"earnings"},"mark":{"type":"text","color":"#2a1a08","fontSize":10.5},"encoding":{"y":{"datum":1.43},"text":{"field":"e"}}}
]},
{"encoding":{"y":{"type":"quantitative","scale":{"domain":[1.9,960],"nice":false,"zero":false},"axis":{"orient":"right","values":[50,100],"labelExpr":"replace(format(datum.value,'.2f'),'.',',')","labelAlign":"right","labelPadding":0,"labelColor":"#dfe3ea","labelFontSize":12,"labelFontWeight":600,"domain":false,"ticks":false,"grid":false,"title":null}}},"layer":[
{"mark":{"type":"bar","width":7.6,"color":"#0b1735"},"encoding":{"y":{"datum":70},"y2":{"datum":30}}},
{"mark":{"type":"line","stroke":"#2b3755","strokeWidth":1},"encoding":{"y":{"datum":70}}},
{"mark":{"type":"line","stroke":"#2b3755","strokeWidth":1},"encoding":{"y":{"datum":30}}},
{"mark":{"type":"line","stroke":"#4a4a72","strokeWidth":1.5},"encoding":{"y":{"datum":50}}},
{"mark":{"type":"line","stroke":"#3c9fd6","strokeWidth":1.2},"encoding":{"y":{"field":"r"}}},
{"data":{"values":[{"d":"2025-10-13","t":"Your local time zone"}]},"mark":{"type":"text","align":"right","dx":4,"color":"#dfe3ea","fontSize":9.5,"fontWeight":600},"encoding":{"y":{"datum":8},"text":{"field":"t"}}}
]},
{"data":{"name":"earnings"},"mark":{"type":"rule","color":"#8a7660","strokeWidth":1,"strokeDash":[4,4]}},
{"encoding":{"y":{"type":"quantitative","scale":{"type":"log","domain":[0.7655,39.8],"nice":false},"axis":{"orient":"right","values":[1.37,1.72,2.17,2.73,3.44,4.33,5.45,6.86,8.64,10.88,13.7,17.24,21.71,27.34],"labelExpr":"replace(format(datum.value,'.2f'),'.',',')","labelAlign":"right","labelPadding":5,"labelColor":"#dfe3ea","labelFontSize":12,"labelFontWeight":600,"domain":false,"ticks":false,"grid":false,"title":null}}},"layer":[
{"data":{"values":[{"d":"2025-03-14","p":5.61,"t":"KC"}]},"mark":{"type":"text","color":"#0c1731","font":"Liberation Sans","fontWeight":"bold","fontSize":91},"encoding":{"y":{"field":"p"},"text":{"field":"t"}}},
{"data":{"values":[{"d":"2025-03-14","p":4.37,"t":"Kingsoft Cloud Holdings Limited"}]},"mark":{"type":"text","color":"#0c1731","font":"Liberation Sans","fontSize":40},"encoding":{"y":{"field":"p"},"text":{"field":"t"}}},
{"data":{"values":[{"d":"2024-08-09","p":28.6,"t":"CLUB"}]},"mark":{"type":"text","align":"left","dx":1,"color":"#4a4b50","font":"Roboto","fontWeight":"bold","fontSize":48},"encoding":{"y":{"field":"p"},"text":{"field":"t"}}},
{"data":{"values":[{"d":"2024-08-09","p":24.66,"t":"DE INVERSIONISTAS"}]},"mark":{"type":"text","align":"left","dx":3,"color":"#45464b","font":"Lato","fontWeight":"bold","fontSize":13},"encoding":{"y":{"field":"p"},"text":{"field":"t"}}},
{"data":{"values":[{"d":"2024-08-12","p":34.6}]},"mark":{"type":"point","shape":"M-.29,-.01 L0,0 M-.07,-.24 L0,0 M.13,.12 L0,0 M-.17,.35 L0,0 M.29,-.32 L-.07,-.24 M.45,.25 L.13,.12 M-.24,-.01 a.05,.05 0 1,0 -.1,0 a.05,.05 0 1,0 .1,0 M-.02,-.24 a.05,.05 0 1,0 -.1,0 a.05,.05 0 1,0 .1,0 M.34,-.32 a.05,.05 0 1,0 -.1,0 a.05,.05 0 1,0 .1,0 M.18,.12 a.05,.05 0 1,0 -.1,0 a.05,.05 0 1,0 .1,0 M.5,.25 a.05,.05 0 1,0 -.1,0 a.05,.05 0 1,0 .1,0 M-.12,.35 a.05,.05 0 1,0 -.1,0 a.05,.05 0 1,0 .1,0","size":2304,"stroke":"#3aa39a","strokeWidth":1,"filled":false},"encoding":{"y":{"field":"p"}}},
{"data":{"values":[{"d":"2024-08-14","p":34.6,"t":"Trend"}]},"mark":{"type":"text","align":"left","dx":4,"color":"#ffffff","font":"Inter","fontWeight":"bold","fontSize":23},"encoding":{"y":{"field":"p"},"text":{"field":"t"}}},
{"data":{"values":[{"d":"2024-08-28","p":34.6,"t":"Spider"}]},"mark":{"type":"text","align":"left","dx":-2,"color":"#d5d9de","font":"Inter","fontWeight":300,"fontSize":23},"encoding":{"y":{"field":"p"},"text":{"field":"t"}}},
{"data":{"values":[{"d":"2024-09-16","p":34.6,"t":"Sep 9, 2025 10:38AM EDT"}]},"mark":{"type":"text","align":"left","dx":-3,"color":"#f2f3f5","fontSize":12.7,"fontWeight":600},"encoding":{"y":{"field":"p"},"text":{"field":"t"}}},
{"data":{"values":[{"d":"2024-08-09","p":22.0,"t":"KC, Daily, Candles chart (Logarithmic scale)"}]},"mark":{"type":"text","align":"left","dx":-2,"color":"#e8eaee","fontSize":12.3,"fontWeight":600},"encoding":{"y":{"field":"p"},"text":{"field":"t"}}},
{"data":{"values":[{"d":"2024-08-09"},{"d":"2025-10-13"}]},"mark":{"type":"line","stroke":"#8f949e","strokeWidth":1,"strokeDash":[5,5]},"encoding":{"y":{"datum":15.97}}},
{"mark":{"type":"rule","strokeWidth":1},"encoding":{"y":{"field":"l"},"y2":{"field":"h"},"color":{"condition":{"test":"datum.c<datum.o","value":"#d81e46"},"value":"#27c96b"}}},
{"mark":{"type":"bar","width":5},"encoding":{"y":{"field":"o"},"y2":{"field":"c"},"color":{"condition":{"test":"datum.c<datum.o","value":"#d81e46"},"value":"#27c96b"}}},
{"data":{"name":"slow"},"mark":{"type":"line","stroke":"#5aa955","strokeWidth":2.2,"interpolate":"monotone"},"encoding":{"y":{"field":"g"}}},
{"data":{"name":"slow"},"mark":{"type":"line","stroke":"#f59a23","strokeWidth":2.2,"interpolate":"monotone"},"encoding":{"y":{"field":"s"}}},
{"data":{"name":"fast"},"mark":{"type":"line","stroke":"#b1302f","strokeWidth":2.4,"interpolate":"monotone"},"encoding":{"y":{"field":"r"}}},
{"data":{"name":"fast"},"mark":{"type":"line","stroke":"#2a6fc0","strokeWidth":2.6,"interpolate":"monotone"},"encoding":{"y":{"field":"b"}}},
{"data":{"name":"trend"},"mark":{"type":"line","stroke":"#e87d1e","strokeWidth":3.2},"encoding":{"y":{"field":"p"},"detail":{"field":"t"}}},
{"data":{"values":[{"d":"2025-10-10"}]},"mark":{"type":"bar","width":43,"cornerRadius":3,"color":"#25c065"},"encoding":{"y":{"datum":16.6},"y2":{"datum":15.38}}},
{"data":{"values":[{"d":"2025-10-10","t":"16,31"}]},"mark":{"type":"text","color":"#ffffff","fontSize":12,"fontWeight":600},"encoding":{"y":{"datum":15.97},"text":{"field":"t"}}}
]}
],
"resolve":{"scale":{"y":"independent"},"axis":{"y":"independent"}}}
